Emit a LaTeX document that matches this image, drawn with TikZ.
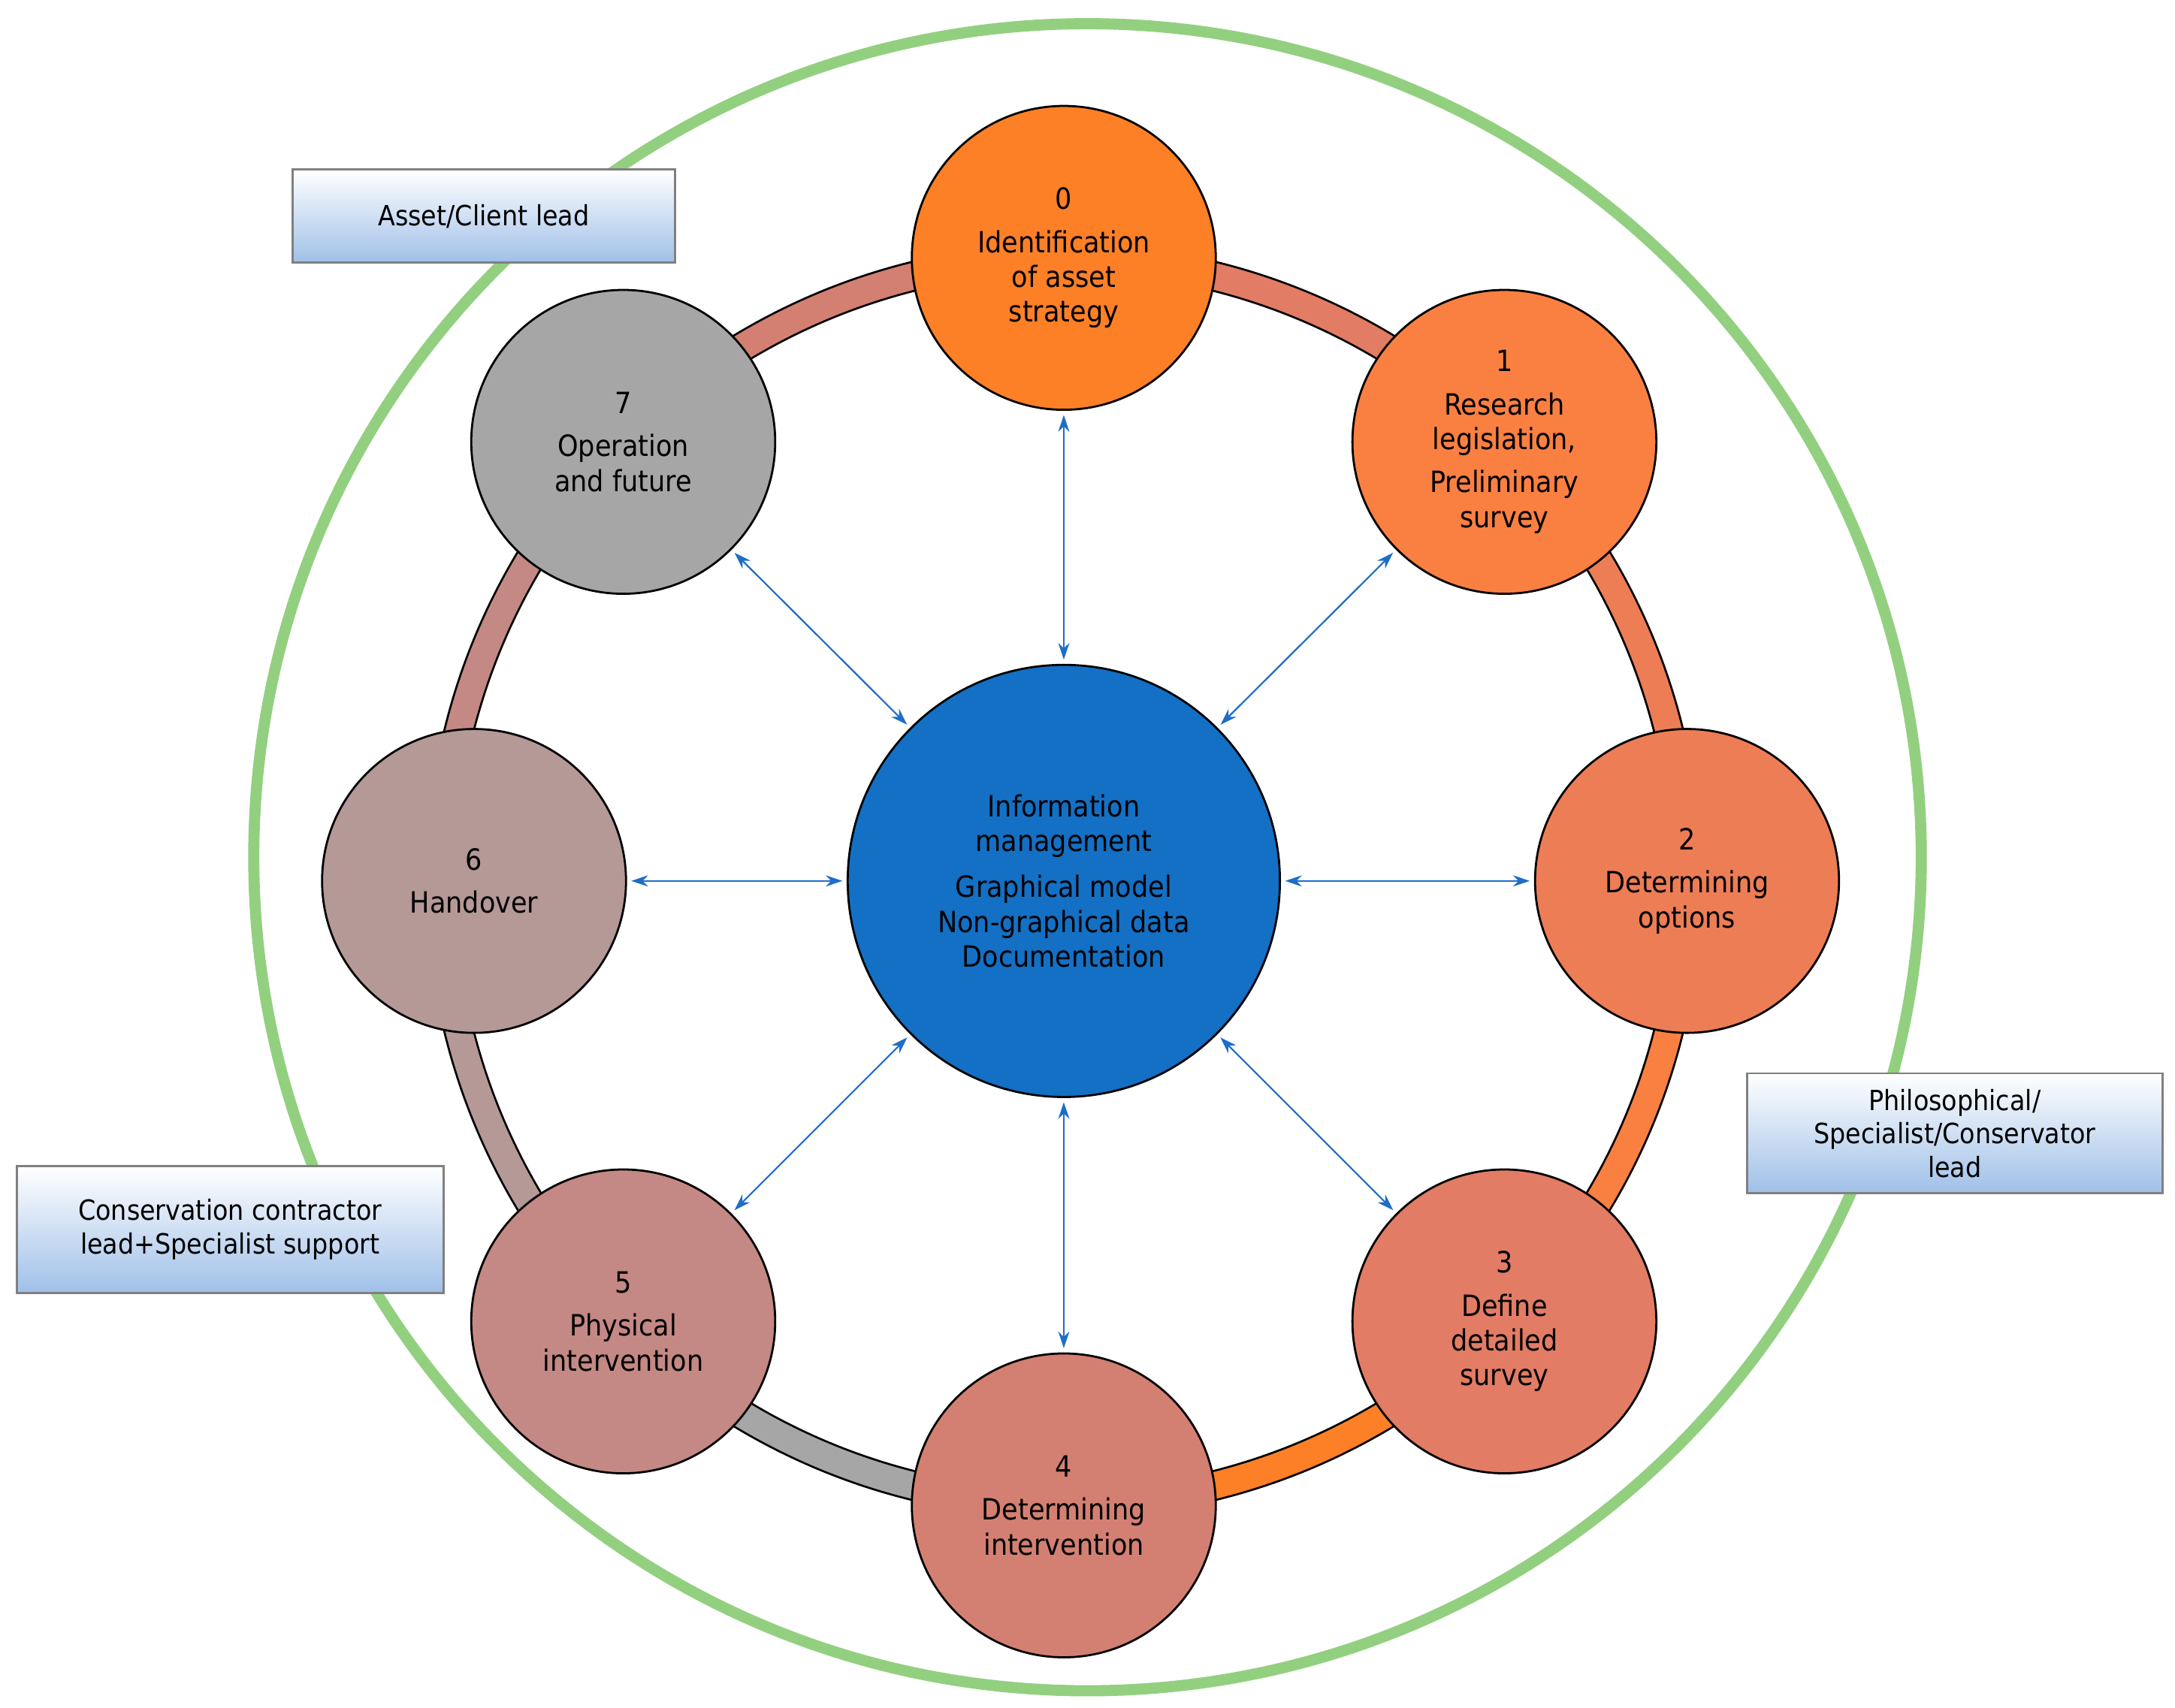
\documentclass[tikz,border=0pt]{standalone}
\usepackage{fontspec}
\setmainfont{DejaVu Sans Condensed}
\usetikzlibrary{arrows.meta,shadings}
\definecolor{cA}{RGB}{253,128,39}
\definecolor{cB}{RGB}{250,128,66}
\definecolor{cC}{RGB}{237,125,85}
\definecolor{cD}{RGB}{226,124,100}
\definecolor{cE}{RGB}{211,128,115}
\definecolor{cF}{RGB}{196,137,132}
\definecolor{cG}{RGB}{181,153,151}
\definecolor{cH}{RGB}{166,166,166}
\definecolor{cM}{RGB}{19,112,196}
\definecolor{ring}{RGB}{146,208,128}
\definecolor{arr}{RGB}{30,110,200}
\definecolor{boxb}{RGB}{160,192,232}
\begin{document}
\begin{tikzpicture}[x=1pt,y=-1pt,
  stage/.style={circle,draw=black,line width=1.5pt,minimum size=218pt,inner sep=0pt,align=center,font=\fontsize{21}{25}\selectfont},
  lead/.style={draw=gray,line width=1.5pt,top color=white,bottom color=boxb,align=center,font=\fontsize{20}{24}\selectfont},
  link/.style={draw=arr,line width=1.2pt,{Stealth[length=12pt,width=8pt]}-{Stealth[length=12pt,width=8pt]}}]
\useasboundingbox (0,0) rectangle (1560,1225);
\draw[ring,line width=8pt] (780,615) circle (598);
% track segments
\foreach \a/\b/\c in {90/45/cA,45/0/cB,0/-45/cC,-45/-90/cD,-90/-135/cE,-135/-180/cF,-180/-225/cG,-225/-270/cH}{
  \draw[black,line width=22pt] (763,632) ++(\a:447) arc[start angle=\a,end angle=\b,radius=447];
  \draw[\c,line width=19pt] (763,632) ++(\a:447) arc[start angle=\a,end angle=\b,radius=447];
}
\node[stage,fill=cM,minimum size=310pt] (m) at (763,632) {Information\\management\\[8pt]Graphical model\\Non-graphical data\\Documentation};
\node[stage,fill=cA] (n0) at (763,185) {0\\[6pt]Identification\\of asset\\strategy};
\node[stage,fill=cB] (n1) at (1079,317) {1\\[6pt]Research\\legislation,\\[6pt]Preliminary\\survey};
\node[stage,fill=cC] (n2) at (1210,632) {2\\[6pt]Determining\\options};
\node[stage,fill=cD] (n3) at (1079,948) {3\\[6pt]Define\\detailed\\survey};
\node[stage,fill=cE] (n4) at (763,1080) {4\\[6pt]Determining\\intervention};
\node[stage,fill=cF] (n5) at (447,948) {5\\[6pt]Physical\\intervention};
\node[stage,fill=cG] (n6) at (340,632) {6\\[6pt]Handover};
\node[stage,fill=cH] (n7) at (447,317) {7\\[6pt]Operation\\and future};
\foreach \n in {n0,n1,n2,n3,n4,n5,n6,n7}{\draw[link,shorten >=3pt,shorten <=3pt] (m) -- (\n);}
\node[lead,minimum width=274pt,minimum height=67pt] (l0) at (347,155) {Asset/Client lead};
\node[lead,minimum width=298pt,minimum height=86pt] (l1) at (1402,813) {Philosophical/\\Specialist/Conservator\\lead};
\node[lead,minimum width=306pt,minimum height=91pt] (l2) at (165,882) {Conservation contractor\\lead+Specialist support};
\end{tikzpicture}
\end{document}
